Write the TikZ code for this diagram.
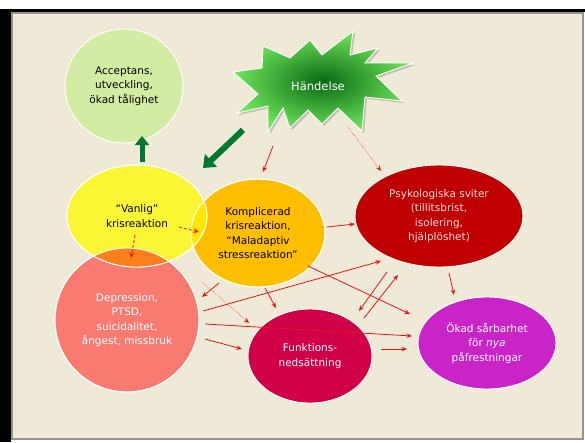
\documentclass[tikz,border=0pt]{standalone}
\usepackage{fontspec}
\setmainfont{DejaVu Sans}
\usetikzlibrary{arrows.meta,shapes.geometric,calc}
\definecolor{paper}{RGB}{239,234,216}
\definecolor{framegray}{RGB}{150,148,138}
\definecolor{accgreen}{RGB}{211,236,163}
\definecolor{vanyel}{RGB}{250,246,52}
\definecolor{kompgold}{RGB}{255,190,0}
\definecolor{psykred}{RGB}{192,0,0}
\definecolor{deprsal}{RGB}{248,122,112}
\definecolor{funkcrim}{RGB}{208,0,72}
\definecolor{okadmag}{RGB}{200,36,200}
\definecolor{ovlyel}{RGB}{255,232,0}
\definecolor{ovlorange}{RGB}{250,128,30}
\definecolor{arrred}{RGB}{232,20,20}
\definecolor{arrgreen}{RGB}{0,120,50}
\definecolor{starlight}{RGB}{110,228,90}
\definecolor{stardark}{RGB}{10,105,20}
\definecolor{pinktext}{RGB}{255,222,222}

\begin{document}
\begin{tikzpicture}[x=1pt,y=-1pt,
   >={Stealth[length=5.5pt,width=4.5pt]},
   bubble/.style={ellipse,draw=white,line width=0.9pt,inner sep=0pt,align=center,
                  font=\fontsize{10.5}{14.5}\selectfont},
   link/.style={->,arrred,line width=0.8pt},
   dashlink/.style={link,densely dashed},
   dotlink/.style={link,line width=0.5pt,densely dotted},
   bigarrow/.style={-{Triangle[length=9pt,width=14pt]},line width=5pt,arrgreen}]
  \useasboundingbox (0,0) rectangle (585,442);
  % frame
  \fill[black] (0,9) rectangle (585,12);
  \fill[black] (0,9) rectangle (11,442);
  \filldraw[fill=paper,draw=framegray,line width=2pt] (12,13) rectangle (583,439);
  % starburst
  \fill[black,opacity=0.18,shift={(2,2)}]
     (233,72) -- (262,68) -- (263,46) -- (290,58) -- (310,40) -- (322,55) -- (353,31)
     -- (350,55) -- (378,48) -- (365,63) -- (413,63) -- (376,76) -- (402,101) -- (365,97)
     -- (362,131) -- (338,108) -- (322,124) -- (308,110) -- (290,128) -- (283,108)
     -- (268,132) -- (268,106) -- (237,113) -- (258,94) -- cycle;
  \shadedraw[inner color=stardark,outer color=starlight,draw=white,line width=0.9pt]
     (233,72) -- (262,68) -- (263,46) -- (290,58) -- (310,40) -- (322,55) -- (353,31)
     -- (350,55) -- (378,48) -- (365,63) -- (413,63) -- (376,76) -- (402,101) -- (365,97)
     -- (362,131) -- (338,108) -- (322,124) -- (308,110) -- (290,128) -- (283,108)
     -- (268,132) -- (268,106) -- (237,113) -- (258,94) -- cycle;
  \node[ellipse,minimum width=170,minimum height=100,inner sep=0pt,text=white,
        font=\fontsize{11.5}{13}\selectfont] (event) at (318,86) {Händelse};
  % bubbles
  \node[bubble,fill=accgreen,minimum width=118,minimum height=114] (accept) at (124,86)
     {Acceptans,\\utveckling,\\ökad tålighet};
  \node[bubble,fill=psykred,text=pinktext,minimum width=168,minimum height=102] (psyk) at (439,216)
     {Psykologiska sviter\\(tillitsbrist,\\isolering,\\hjälplöshet)};
  \node[bubble,fill=deprsal,text=white,minimum width=144,minimum height=144] (depr) at (127,320)
     {Depression,\\PTSD,\\suicidalitet,\\ångest, missbruk};
  \node[bubble,fill=kompgold,minimum width=134,minimum height=108] (kompl) at (258,233)
     {Komplicerad\\krisreaktion,\\“Maladaptiv\\stressreaktion”};
  \node[bubble,fill=vanyel,minimum width=140,minimum height=102] (vanlig) at (137,216)
     {“Vanlig”\\krisreaktion};
  \node[bubble,fill=funkcrim,text=white,minimum width=124,minimum height=94] (funk) at (310,356)
     {Funktions-\\nedsättning};
  \node[bubble,fill=okadmag,text=white,minimum width=138,minimum height=92] (okad) at (487,343)
     {Ökad sårbarhet\\för \textit{nya}\\påfrestningar};
  % overlaps
  \begin{scope}
    \clip (vanlig) ellipse [x radius=70,y radius=51];
    \fill[ovlyel] (kompl) ellipse [x radius=67,y radius=54];
    \fill[ovlorange] (depr) circle [radius=72];
  \end{scope}
  \draw[white,line width=0.9pt] (vanlig) ellipse [x radius=70,y radius=51];
  \draw[white,line width=0.9pt] (kompl) ellipse [x radius=67,y radius=54];
  \draw[white,line width=0.9pt] (depr) circle [radius=72];
  % green arrows
  \draw[bigarrow] ($(vanlig)+(5,-54)$) -- ($(accept)+(18,50)$);
  \draw[bigarrow,line width=6pt,-{Triangle[length=11pt,width=17pt]}]
     ($(event)+(-75,44)$) -- ($(vanlig)+(66,-48)$);
  % red arrows
  \draw[link] ($(event)+(-45,60)$) -- ($(kompl)+(5,-61)$);
  \draw[dotlink] ($(event)+(30,41)$) -- ($(psyk)+(-58,-45)$);
  \draw[dashlink] ($(vanlig)+(42,11)$) -- ($(kompl)+(-59,-1)$);
  \draw[dashlink] ($(vanlig)+(-2,19)$) -- ($(depr)+(4,-62)$);
  \draw[link] ($(kompl)+(69,-6)$) -- ($(psyk)+(-84,8)$);
  \draw[link] ($(kompl)+(7,55)$) -- ($(funk)+(-34,-48)$);
  \draw[link] ($(kompl)+(50,33)$) -- ($(okad)+(-77,-29)$);
  \draw[link] ($(kompl)+(-39,50)$) -- ($(depr)+(75,-23)$);
  \draw[dotlink] ($(kompl)+(-56,49)$) -- ($(funk)+(-61,-33)$);
  \draw[link] ($(depr)+(76,-9)$) -- ($(psyk)+(-58,45)$);
  \draw[link] ($(depr)+(78,4)$) -- ($(okad)+(-75,-7)$);
  \draw[link] ($(depr)+(78,19)$) -- ($(funk)+(-68,-7)$);
  \draw[link] ($(funk)+(54,-38)$) -- ($(psyk)+(-41,59)$);
  \draw[link] ($(psyk)+(-52,56)$) -- ($(funk)+(49,-45)$);
  \draw[link] ($(funk)+(71,-7)$) -- ($(okad)+(-80,6)$);
  \draw[link] ($(psyk)+(10,57)$) -- ($(okad)+(-33,-48)$);
\end{tikzpicture}
\end{document}
